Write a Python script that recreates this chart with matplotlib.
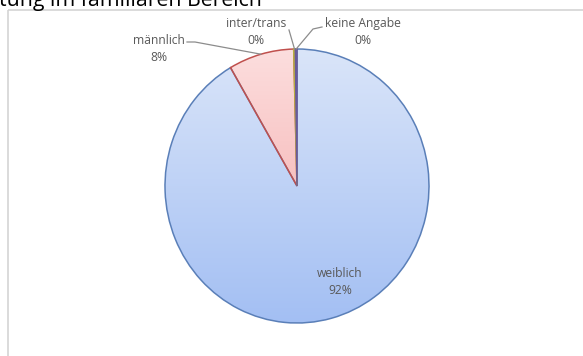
import numpy as np
import matplotlib.pyplot as plt
from matplotlib.patches import Rectangle

categories = ['weiblich', 'männlich', 'inter/trans', 'keine Angabe']
values = [91.6, 8.0, 0.2, 0.2]
pct_labels = ['92%', '8%', '0%', '0%']

W, H = 583, 356
fig = plt.figure(figsize=(W / 100, H / 100), dpi=100)

# pie geometry in pixels (top-left origin)
cx, cy, rx, ry = 297, 186, 132, 137

ax = fig.add_axes([(cx - rx) / W, (H - cy - ry) / H, 2 * rx / W, 2 * ry / H])
wedges, _ = ax.pie(values, startangle=90, counterclock=False, radius=1,
                   wedgeprops=dict(linewidth=1.1))
ax.set_aspect('auto')
ax.set_xlim(-1, 1)
ax.set_ylim(-1, 1)
ax.axis('off')

grads = [('#dae5f9', '#a3bff3'), ('#fcdede', '#f3a2a2'),
         ('#e8e070', '#d8cf50'), ('#8a78b8', '#7060a8')]
edges = ['#5a7fb8', '#c0504d', '#b8b040', '#6a5a9a']

t = np.linspace(0, 1, 256)[:, None]
for w, (c1, c2), ec in zip(wedges, grads, edges):
    a = np.array(plt.matplotlib.colors.to_rgb(c1))
    b = np.array(plt.matplotlib.colors.to_rgb(c2))
    img = (a + (b - a) * t[..., None]) * np.ones((1, 2, 1))
    im = ax.imshow(img, extent=(-1, 1, -1, 1), origin='upper', aspect='auto', zorder=1)
    im.set_clip_path(w)
    w.set_facecolor('none')
    w.set_edgecolor(ec)
    w.set_zorder(2)

# overlay in pixel coordinates for frame, title and labels
ov = fig.add_axes([0, 0, 1, 1], zorder=5)
ov.set_xlim(0, W)
ov.set_ylim(H, 0)
ov.axis('off')
ov.patch.set_alpha(0)

ov.add_patch(Rectangle((8, 10), 600, 400, fill=False, edgecolor='#d4d4d4', linewidth=1.2))
ov.text(-1, 6, 'tung im familiären Bereich', fontsize=15.3, family='Open Sans',
        color='black', va='baseline', ha='left')


def edge_point(i):
    w = wedges[i]
    th = np.deg2rad((w.theta1 + w.theta2) / 2)
    return cx + rx * np.cos(th), cy - ry * np.sin(th)


lab = dict(fontsize=8.7, family='Open Sans', color='#595959', ha='center', va='center',
           linespacing=1.45)
lc = dict(color='#8c8c8c', linewidth=0.9)

ov.text(340, 282, categories[0] + '\n' + pct_labels[0], **lab)

ov.text(159, 49, categories[1] + '\n' + pct_labels[1], **lab)
ex, ey = edge_point(1)
ov.plot([187, 195, ex], [42, 42, ey], **lc)

ov.text(256, 32, categories[2] + '\n' + pct_labels[2], **lab)
ex, ey = edge_point(2)
ov.plot([289, ex], [30, ey], **lc)

ov.text(363, 32, categories[3] + '\n' + pct_labels[3], **lab)
ex, ey = edge_point(3)
ov.plot([322, 313, ex], [27, 29, ey], **lc)

fig.savefig('out.png', dpi=100)
